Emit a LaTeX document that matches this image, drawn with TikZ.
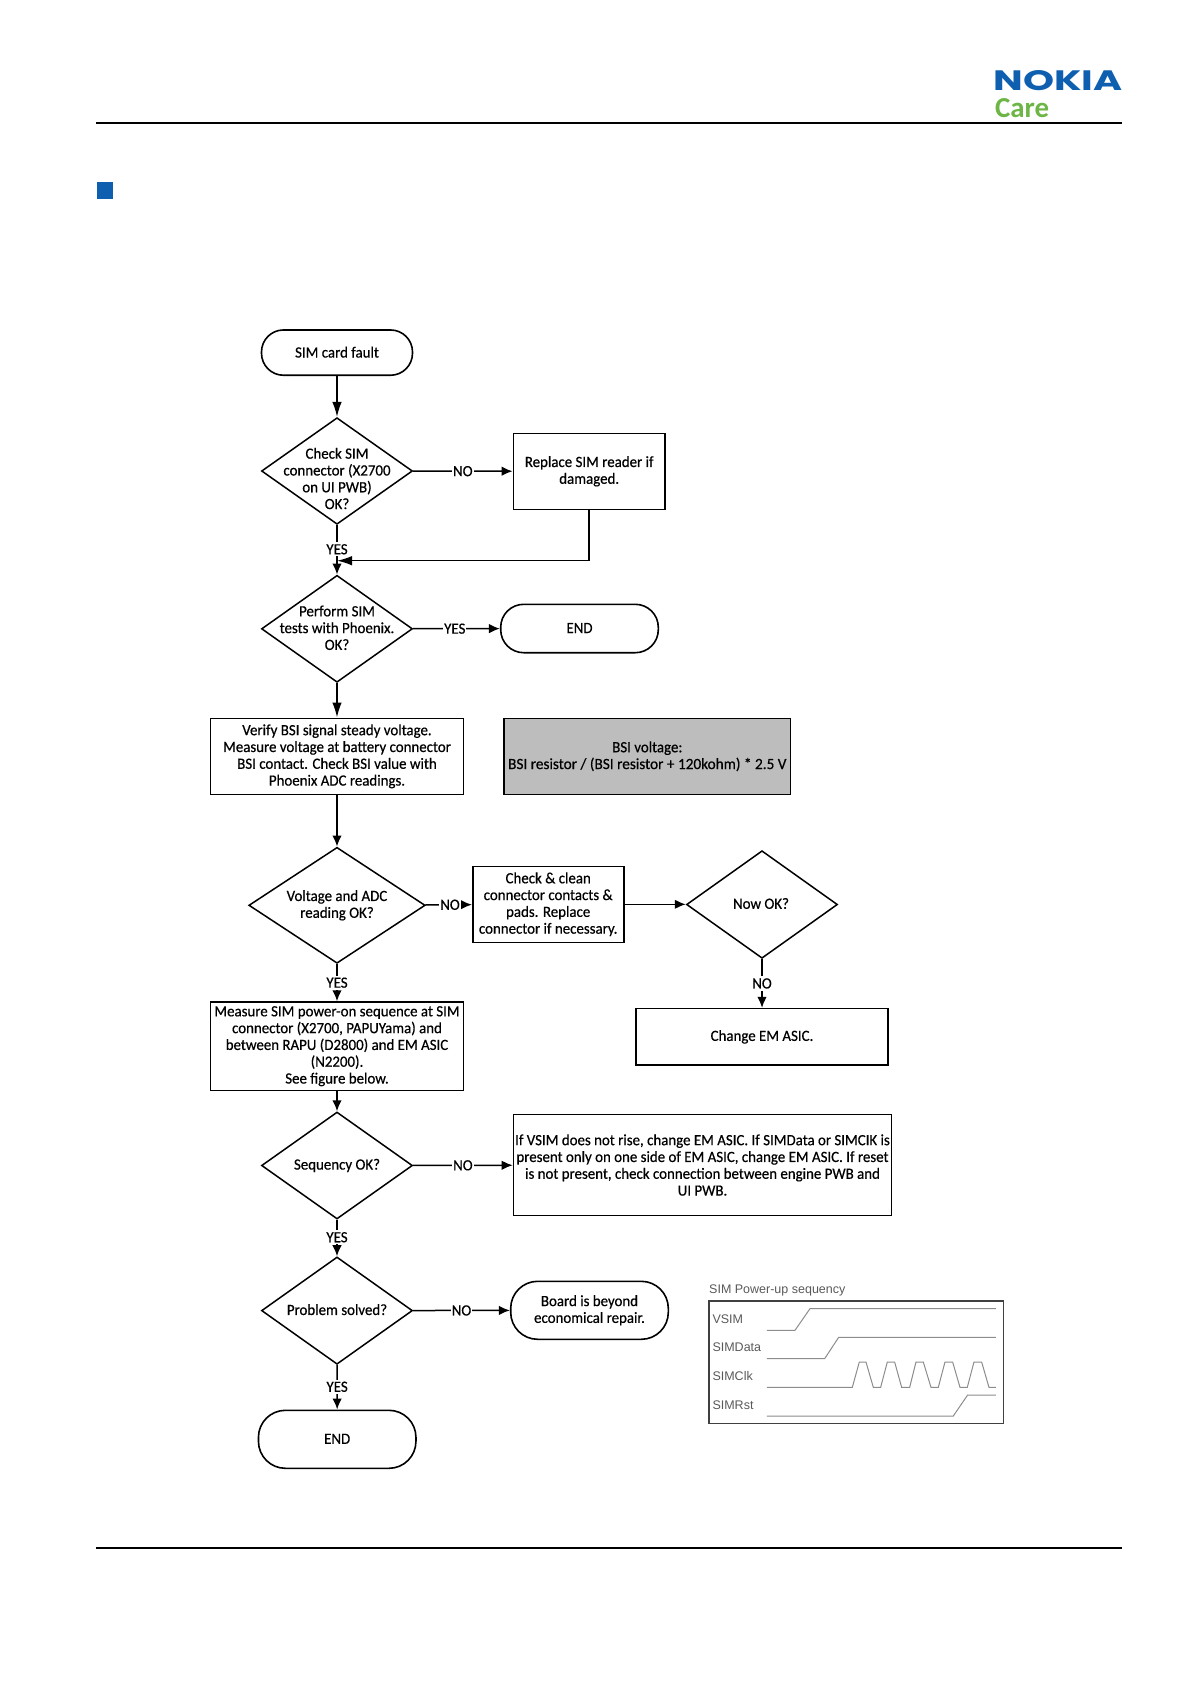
\documentclass[tikz,border=0pt]{standalone}
\usepackage{fontspec}
\setmainfont{Carlito}[FakeBold=0.5,FakeStretch=0.955]
\newfontfamily\logofont{Poppins}[Scale=1]
\newfontfamily\carefont{Carlito}
\newfontfamily\wavefont{Liberation Sans}
\usetikzlibrary{arrows.meta,shapes.geometric}
\definecolor{nokiablue}{HTML}{0F5FB0}
\definecolor{caregreen}{HTML}{6DB544}
\definecolor{wavegrey}{HTML}{8C8C8C}
\tikzset{
  x=1pt,y=-1pt,
  every node/.style={font=\fontsize{15.6}{16.8}\selectfont},
  box/.style={draw,line width=1.6pt,minimum width=#1,inner sep=0pt,align=center,anchor=center},
  greybox/.style={box=#1,fill=black!26},
  dia/.style={draw,diamond,line width=1.5pt,inner sep=0pt},
  txt/.style={align=center,inner sep=0pt},
  lab/.style={fill=white,inner xsep=1pt,inner ysep=2pt,pos=0.5},
  flow/.style={line width=1.5pt,-{Latex[length=11pt,width=9.5pt]}},
  longflow/.style={line width=1.5pt,-{Latex[length=15pt,width=9.5pt]}},
  rule/.style={line width=2pt},
  wave/.style={wavegrey,line width=1pt},
  wavetxt/.style={font=\wavefont\fontsize{12.5}{14}\selectfont,text=black!65,anchor=west,inner sep=0pt},
}
\begin{document}
\begin{tikzpicture}
\useasboundingbox (0,0) rectangle (1191,1684);
% header and footer
\draw[rule] (96,122.7) coordinate (ruleA) -- (1122,122.7) coordinate (ruleB);
\draw[rule] (96,1548) coordinate (ruleC) -- (1122,1548) coordinate (ruleD);
\fill[nokiablue] (96.7,182) rectangle (113.3,199);
\node[inner sep=0pt,anchor=north west,text=nokiablue] (logoA) at (993.5,70.7)
  {\resizebox{129pt}{20pt}{\logofont\bfseries NOKIA}};
\node[inner sep=0pt,anchor=north west,text=caregreen] (logoB) at (995,98.5)
  {\resizebox{54pt}{19pt}{\carefont\bfseries Care}};
% terminators
\node[box=151,minimum height=45.3,rounded corners=22] (start) at (337,352.6) {\raisebox{1pt}{SIM card fault}};
\node[box=157.6,minimum height=48.4,rounded corners=23] (endA) at (579.5,628.5) {\raisebox{1pt}{END}};
\node[box=157.6,minimum height=58,rounded corners=27] (board) at (589.5,1310.3) {Board is beyond\\economical repair.};
\node[box=157.5,minimum height=58,rounded corners=27] (endB) at (337.2,1439.3) {\raisebox{1pt}{END}};
% boxes
\node[box=151.7,minimum height=76] (replace) at (589.2,471.3) {Replace SIM reader if\\damaged.};
\node[box=253,minimum height=76] (verify) at (337,756.3) {Verify BSI signal steady voltage.\\Measure voltage at battery connector\\BSI contact. Check BSI value with\\Phoenix ADC readings.};
\node[greybox=286.6,minimum height=76] (bsi) at (647.3,756.3) {BSI voltage:\\\scalebox{1.025}[1]{BSI resistor / (BSI resistor + 120kohm) * 2.5 V}};
\node[box=151,minimum height=76] (check) at (548.2,904.3) {Check \& clean\\connector contacts \&\\pads. Replace\\connector if necessary.};
\node[box=252,minimum height=56.3] (change) at (762,1036.8) {Change EM ASIC.};
\node[box=253,minimum height=88.3] (measure) at (337,1046.2) {Measure SIM power-on sequence at SIM\\connector (X2700, PAPUYama) and\\between RAPU (D2800) and EM ASIC\\(N2200).\\See figure below.};
\node[box=378,minimum height=101] (ifbox) at (702.5,1165) {If VSIM does not rise, change EM ASIC. If SIMData or SIMCIK is\\present only on one side of EM ASIC, change EM ASIC. If reset\\is not present, check connection between engine PWB and\\UI PWB.};
% decisions
\node[dia,minimum width=151,minimum height=106.6] (dA) at (337,471) {};
\node[txt] (dAt) at (337,478.5) {Check SIM\\connector (X2700\\on UI PWB)\\OK?};
\node[dia,minimum width=151,minimum height=107] (dB) at (337,628.8) {};
\node[txt] (dBt) at (337,627.8) {Perform SIM\\tests with Phoenix.\\OK?};
\node[dia,minimum width=176.4,minimum height=116] (dC) at (337,905.3) {};
\node[txt] (dCt) at (337,905.3) {Voltage and ADC\\reading OK?};
\node[dia,minimum width=151,minimum height=107.6] (dD) at (762,904.5) {};
\node[txt] (dDt) at (761,903.5) {Now OK?};
\node[dia,minimum width=151,minimum height=107] (dE) at (337,1165.5) {};
\node[txt] (dEt) at (337,1165.5) {Sequency OK?};
\node[dia,minimum width=151,minimum height=107.3] (dF) at (337,1310.6) {};
\node[txt] (dFt) at (337,1309.6) {Problem solved?};
% connectors
\coordinate (merge) at (dA.south |- 0,560.7);
\draw[longflow] (start) -- (dA);
\draw[flow] (dA) -- node[lab] (lA) {NO} (replace);
\draw[flow] (dA) -- node[lab,pos=0.49] (lB) {YES} (dB);
\draw[longflow] (replace) |- (merge);
\draw[flow] (dB) -- node[lab,pos=0.48] (lC) {YES} (endA);
\draw[longflow] (dB) -- (verify);
\draw[flow] (verify) -- (dC);
\draw[flow] (dC) -- node[lab,pos=0.53] (lD) {NO} (check);
\draw[flow] (check) -- (dD.west |- check);
\draw[flow] (dC) -- node[lab] (lE) {YES} (measure);
\draw[flow] (dD) -- node[lab] (lF) {NO} (change);
\draw[flow] (measure) -- (dE);
\draw[flow] (dE) -- node[lab] (lG) {NO} (ifbox);
\draw[flow] (dE) -- node[lab,pos=0.48] (lH) {YES} (dF);
\draw[flow] (dF) -- node[lab] (lI) {NO} (board);
\draw[flow] (dF) -- node[lab,pos=0.49] (lJ) {YES} (endB);
% waveform figure
\node[wavetxt] (wtitle) at (709,1290.3) {SIM Power-up sequency};
\draw[black!75,line width=1.6pt] (709,1301) rectangle (1003.3,1423.3);
\node[wavetxt] (wA) at (712.3,1318.7) {VSIM};
\node[wavetxt] (wB) at (712.3,1347.3) {SIMData};
\node[wavetxt] (wC) at (712.3,1376.3) {SIMClk};
\node[wavetxt] (wD) at (712.3,1405) {SIMRst};
\begin{scope}[shift={(680,1260)},x=0.3333pt,y=-0.3333pt]
\draw[wave] (261,211)--(345,211)--(390,146)--(948,146);
\draw[wave] (261,296)--(434,296)--(476,232)--(948,232);
\draw[wave] (261,382)--(517,382)--(538,306)--(558,306)--(580,382)--(602,382)--(622,306)--(644,306)--(665,382)--(689,382)--(708,306)--(730,306)--(753,382)--(775,382)--(795,306)--(818,306)--(840,382)--(862,382)--(882,306)--(905,306)--(927,382)--(948,382);
\draw[wave] (261,468)--(820,468)--(863,405)--(948,405);
\end{scope}
\end{tikzpicture}
\end{document}
